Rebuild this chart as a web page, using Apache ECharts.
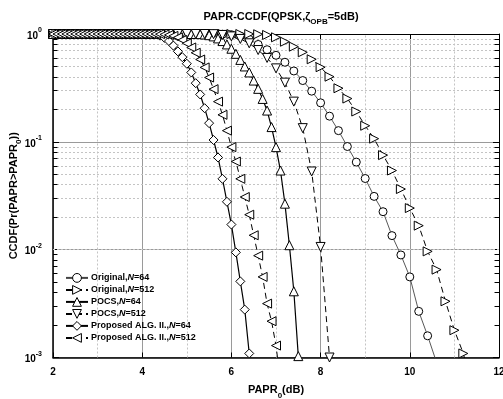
<!DOCTYPE html>
<html><head><meta charset="utf-8">
<script src="https://cdn.jsdelivr.net/npm/echarts@6/dist/echarts.min.js"></script>
<style>html,body{margin:0;padding:0;background:#fff}#c{width:503px;height:399px}</style>
</head><body><div id="c"></div>
<script>
// ---- data ----
const seriesNames = ['Original,N=64','Original,N=512','POCS,N=64','POCS,N=512','Proposed ALG. II.,N=64','Proposed ALG. II.,N=512'];

const orig64X = [2,2.2,2.4,2.6,2.8,3,3.2,3.4,3.6,3.8,4,4.2,4.4,4.6,4.8,5,5.2,5.4,5.6,5.8,6,6.2,6.4,6.6,6.8,7,7.2,7.4,7.6,7.8,8,8.2,8.4,8.6,8.8,9,9.2,9.4,9.6,9.8,10,10.2,10.4,10.6];
const orig64Y = [1,1,1,1,1,1,1,1,1,1,1,1,1,1,1,1,1,1,
  0.999,0.995,0.985,0.955,0.893,0.80,0.715,0.635,0.547,0.454,0.370,0.295,0.230,0.173,0.127,0.0905,0.0649,0.0457,0.0312,0.0225,0.0135,0.00893,0.00559,0.00268,0.00159,0.0009];

const orig512X = [2,2.2,2.4,2.6,2.8,3,3.2,3.4,3.6,3.8,4,4.2,4.4,4.6,4.8,5,5.2,5.4,5.6,5.8,6,6.2,6.4,6.6,6.8,7,7.2,7.4,7.6,7.8,8,8.2,8.4,8.6,8.8,9,9.2,9.4,9.6,9.8,10,10.2,10.4,10.6,10.8,11,11.2,11.4];
const orig512Y = [1,1,1,1,1,1,1,1,1,1,1,1,1,1,1,1,1,1,1,1,1,1,1,
  0.995,0.98,0.932,0.848,0.763,0.677,0.583,0.492,0.402,0.314,0.252,0.191,0.141,0.107,0.0753,0.0542,0.0365,0.0243,0.0167,0.00964,0.00653,0.00332,0.00179,0.00109,0.0005];

const pocs64X = [2,2.1,2.2,2.3,2.4,2.5,2.6,2.7,2.8,2.9,3,3.1,3.2,3.3,3.4,3.5,3.6,3.7,3.8,3.9,4,4.1,4.2,4.3,4.4,4.5,4.6,4.7,4.8,4.9,5,5.1,5.2,5.3,5.4,5.5,5.6,5.7,5.8,5.9,6,6.1,6.2,6.3,6.4,6.5,6.6,6.7,6.8,6.9,7,7.1,7.2,7.3,7.4,7.5,7.6];
const pocs64Y = [1,1,1,1,1,1,1,1,1,1,1,1,1,1,1,1,1,1,1,1,1,1,1,1,1,1,1,1,1,1,1,1,1,
  0.997,0.99,0.975,0.95,0.91,0.86,0.80,0.73,0.655,0.575,0.50,0.44,0.37,0.31,0.25,0.195,0.137,0.0893,0.0542,0.0267,0.011,0.00411,0.00103,0.0002];

const pocs512X = [2,2.2,2.4,2.6,2.8,3,3.2,3.4,3.6,3.8,4,4.2,4.4,4.6,4.8,5,5.2,5.4,5.6,5.8,6,6.2,6.4,6.6,6.8,7,7.2,7.4,7.6,7.8,8,8.2];
const pocs512Y = [1,1,1,1,1,1,1,1,1,1,1,1,1,1,1,1,1,1,
  0.997,0.98,0.95,0.90,0.82,0.71,0.60,0.48,0.354,0.236,0.134,0.0531,0.0106,0.001];

const prop64X = [2,2.1,2.2,2.3,2.4,2.5,2.6,2.7,2.8,2.9,3,3.1,3.2,3.3,3.4,3.5,3.6,3.7,3.8,3.9,4,4.1,4.2,4.3,4.4,4.5,4.6,4.7,4.8,4.9,5,5.1,5.2,5.3,5.4,5.5,5.6,5.7,5.8,5.9,6,6.1,6.2,6.3,6.4,6.5];
const prop64Y = [1,1,1,1,1,1,1,1,1,1,1,1,1,1,1,1,1,1,1,1,1,1,
  0.997,0.99,0.965,0.92,0.86,0.78,0.69,0.61,0.53,0.44,0.35,0.275,0.205,0.149,0.104,0.0716,0.0454,0.0278,0.0171,0.00944,0.00508,0.00278,0.00109,0.0003];

const prop512X = [2,2.1,2.2,2.3,2.4,2.5,2.6,2.7,2.8,2.9,3,3.1,3.2,3.3,3.4,3.5,3.6,3.7,3.8,3.9,4,4.1,4.2,4.3,4.4,4.5,4.6,4.7,4.8,4.9,5,5.1,5.2,5.3,5.4,5.5,5.6,5.7,5.8,5.9,6,6.1,6.2,6.3,6.4,6.5,6.6,6.7,6.8,6.9,7,7.1];
const prop512Y = [1,1,1,1,1,1,1,1,1,1,1,1,1,1,1,1,1,1,1,1,1,1,1,1,
  0.997,0.99,0.98,0.96,0.93,0.88,0.82,0.75,0.67,0.58,0.49,0.395,0.308,0.236,0.178,0.127,0.0893,0.0657,0.0454,0.0308,0.0211,0.0136,0.0088,0.00559,0.00316,0.00217,0.00129,0.0006];

const xMajorTicks = [2,4,6,8,10,12];
const xMinorTicks = [3,5,7,9,11];
const yMinorTicks = [0.2,0.3,0.4,0.5,0.6,0.7,0.8,0.9,0.02,0.03,0.04,0.05,0.06,0.07,0.08,0.09,0.002,0.003,0.004,0.005,0.006,0.007,0.008,0.009];

// ---- chart ----
const FONT = 'Liberation Sans, Arial, sans-serif';
function pairs(xs, ys){ return xs.map((x,i)=>[x, ys[i]]); }
const TRI_R = 'path://M0,0L10,5L0,10Z';
const TRI_D = 'path://M0,0L10,0L5,10Z';
const TRI_L = 'path://M10,0L0,5L10,10Z';

function mk(name, xs, ys, symbol, size, dashed, lw, color){
  return {
    name: name, type: 'line', data: pairs(xs, ys), clip: true, z: 5,
    symbol: symbol, symbolSize: size, showAllSymbol: true,
    itemStyle: {color: '#fff', borderColor: '#000', borderWidth: 1},
    lineStyle: {color: color, width: lw, type: dashed ? [6,4] : 'solid'},
    emphasis: {disabled: true}
  };
}

const minorGridData = yMinorTicks.map(v=>({yAxis: v})).concat(xMinorTicks.map(v=>({xAxis: v})));
const minorTickData = [];
yMinorTicks.forEach(v=>{
  minorTickData.push([{coord:[2, v]}, {coord:[2.1, v]}]);
  minorTickData.push([{coord:[11.9, v]}, {coord:[12, v]}]);
});

const legendItemStyle = {color: '#fff', borderColor: '#000', borderWidth: 1};

const chart = echarts.init(document.getElementById('c'), null, {renderer: 'canvas'});
chart.setOption({
  animation: false,
  backgroundColor: '#fff',
  title: {
    text: '{t|PAPR-CCDF(QPSK,ζ}{s|OPB}{t|=5dB)}',
    left: 276, top: 6, textAlign: 'center',
    textStyle: {
      rich: {
        t: {fontFamily: FONT, fontWeight: 'bold', fontSize: 11, color: '#000', lineHeight: 13, verticalAlign: 'top'},
        s: {fontFamily: FONT, fontWeight: 'bold', fontSize: 8, color: '#000', lineHeight: 8, padding: [7,0,0,0], verticalAlign: 'top'}
      }
    }
  },
  grid: {left: 53, right: 4, top: 34, bottom: 41.5, containLabel: false, outerBoundsMode: 'none'},
  legend: {
    data: seriesNames.map(n => ({name: n, itemStyle: legendItemStyle})),
    orient: 'vertical', left: 60, top: 268,
    itemWidth: 22, itemHeight: 11, itemGap: 2.2,
    itemStyle: legendItemStyle,
    formatter: function(name){ const p = name.split('N='); return '{b|' + p[0] + '}{i|N}{b|=' + p[1] + '}'; },
    textStyle: {
      padding: [0,0,0,-2],
      rich: {
        b: {fontFamily: FONT, fontWeight: 'bold', fontSize: 9, color: '#000'},
        i: {fontFamily: FONT, fontWeight: 'bold', fontStyle: 'italic', fontSize: 9, color: '#000'}
      }
    },
    selectedMode: false
  },
  xAxis: [{
    type: 'value', min: 2, max: 12, interval: 2, position: 'bottom',
    name: '{a|PAPR}{s|0}{a|(dB)}', nameLocation: 'middle', nameGap: 27, nameMoveOverlap: false,
    nameTextStyle: {
      rich: {
        a: {fontFamily: FONT, fontWeight: 'bold', fontSize: 11, color: '#000', lineHeight: 13, verticalAlign: 'top'},
        s: {fontFamily: FONT, fontWeight: 'bold', fontSize: 8, color: '#000', lineHeight: 8, padding: [7,0,0,0], verticalAlign: 'top'}
      }
    },
    axisLine: {show: true, onZero: false, lineStyle: {color: '#000', width: 1.5}},
    axisTick: {show: true, inside: true, length: 5, lineStyle: {color: '#000', width: 1}},
    axisLabel: {fontFamily: FONT, fontWeight: 'bold', fontSize: 10, color: '#000', margin: 10,
      formatter: v => xMajorTicks.includes(v) ? String(v) : ''},
    splitLine: {show: true, lineStyle: {color: '#9a9a9a', width: 1}}
  }, {
    type: 'value', min: 2, max: 12, interval: 2, position: 'top',
    axisLine: {show: true, onZero: false, lineStyle: {color: '#000', width: 1}},
    axisTick: {show: true, inside: true, length: 5, lineStyle: {color: '#000'}},
    axisLabel: {show: false}, splitLine: {show: false}
  }],
  yAxis: [{
    type: 'log', logBase: 10, min: 0.001, max: 1, position: 'left',
    name: '{a|CCDF(Pr(PAPR>PAPR}{s|0}{a|))}', nameLocation: 'middle', nameGap: 32, nameMoveOverlap: false,
    nameTextStyle: {
      rich: {
        a: {fontFamily: FONT, fontWeight: 'bold', fontSize: 11, color: '#000', lineHeight: 13, verticalAlign: 'top'},
        s: {fontFamily: FONT, fontWeight: 'bold', fontSize: 8, color: '#000', lineHeight: 8, padding: [7,0,0,0], verticalAlign: 'top'}
      }
    },
    axisLine: {show: true, onZero: false, lineStyle: {color: '#000', width: 1.5}},
    axisTick: {show: true, inside: true, length: 6, lineStyle: {color: '#000', width: 1}},
    axisLabel: {
      margin: 11,
      formatter: v => '{b|10}{e|' + Math.round(Math.log10(v)) + '}',
      rich: {
        b: {fontFamily: FONT, fontWeight: 'bold', fontSize: 10, color: '#000', lineHeight: 14, verticalAlign: 'bottom'},
        e: {fontFamily: FONT, fontWeight: 'bold', fontSize: 7, color: '#000', lineHeight: 8, padding: [0,0,6,0], verticalAlign: 'top'}
      }
    },
    splitLine: {show: true, lineStyle: {color: '#9a9a9a', width: 1}}
  }, {
    type: 'log', logBase: 10, min: 0.001, max: 1, position: 'right',
    axisLine: {show: true, onZero: false, lineStyle: {color: '#000', width: 1}},
    axisTick: {show: true, inside: true, length: 6, lineStyle: {color: '#000'}},
    axisLabel: {show: false}, splitLine: {show: false}
  }],
  series: [
    {
      name: 'minorGrid', type: 'line', data: [], z: 1, silent: true,
      markLine: {silent: true, symbol: ['none','none'], label: {show: false}, animation: false,
        lineStyle: {color: '#c4c4c4', width: 1, type: [2,2]}, data: minorGridData}
    },
    {
      name: 'minorTicks', type: 'line', data: [], z: 2, silent: true,
      markLine: {silent: true, symbol: ['none','none'], label: {show: false}, animation: false,
        lineStyle: {color: '#000', width: 1, type: 'solid'}, data: minorTickData}
    },
    mk(seriesNames[0], orig64X, orig64Y, 'circle', 8, false, 0.9, '#444'),
    mk(seriesNames[1], orig512X, orig512Y, TRI_R, 9, true, 1, '#000'),
    mk(seriesNames[2], pocs64X, pocs64Y, 'triangle', 9, false, 1.2, '#000'),
    mk(seriesNames[3], pocs512X, pocs512Y, TRI_D, 9, true, 1, '#000'),
    mk(seriesNames[4], prop64X, prop64Y, 'diamond', 9, false, 1.2, '#000'),
    mk(seriesNames[5], prop512X, prop512Y, TRI_L, 9, true, 1, '#000')
  ]
});
</script></body></html>
